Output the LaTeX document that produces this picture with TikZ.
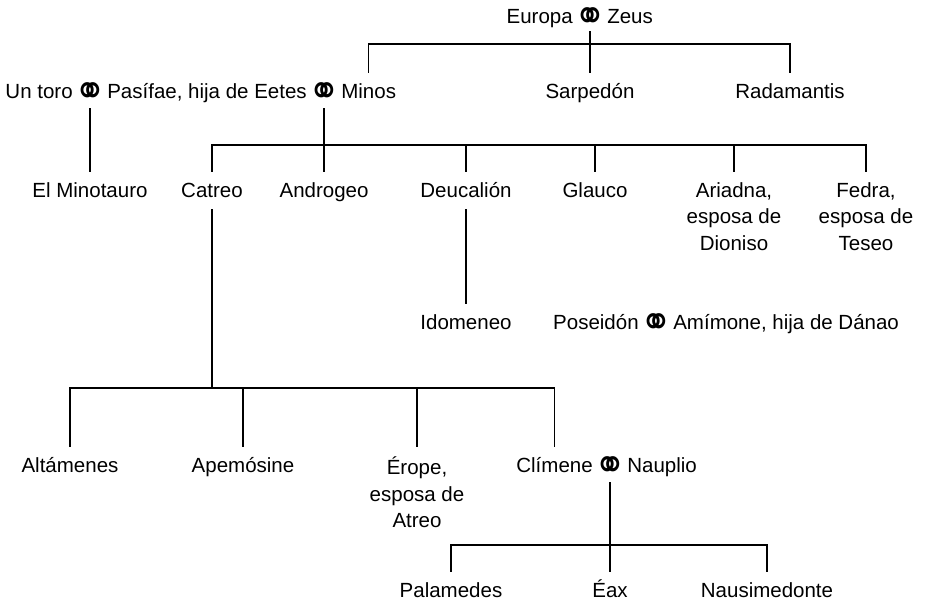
\documentclass[tikz,border=0pt]{standalone}
\usepackage{fontspec}
\setmainfont{Liberation Sans}
\newfontfamily\symfont{DejaVu Sans}
\newcommand\ringsym{\raisebox{-8.7pt}{\scalebox{1.15}[1.35]{\symfont\fontsize{33}{33}\selectfont ⚭}}}
\begin{document}
\begin{tikzpicture}[x=1pt,y=-1pt,
  txt/.style={font=\fontsize{20.5}{26.5}\selectfont, inner sep=0pt, align=center},
  lbl/.style={txt, anchor=base, text height=15pt, text depth=4pt},
  mlbl/.style={txt, anchor=north},
  rel/.style={line width=1.5pt}]
\useasboundingbox (0,0) rectangle (952,605);
% row 0
\node[lbl] (r0) at (590,23) {\ringsym};
\node[lbl, anchor=base east] (europa) at ([xshift=-1pt]r0.base west) {Europa};
\node[lbl, anchor=base west] (zeus) at ([xshift=1pt]r0.base east) {Zeus};
% row 1
\node[lbl] (r1) at (90,98) {\ringsym};
\node[lbl, anchor=base east] (toro) at ([xshift=-1pt]r1.base west) {Un toro};
\node[lbl, anchor=base west] (pasifae) at ([xshift=1pt]r1.base east) {Pasífae, hija de Eetes};
\node[lbl, anchor=base west] (r2) at ([xshift=1pt]pasifae.base east) {\ringsym};
\node[lbl, anchor=base west] (minos) at ([xshift=1pt]r2.base east) {Minos};
\node[lbl] (sarp) at (590,98) {Sarpedón};
\node[lbl] (radam) at (790,98) {Radamantis};
% row 2
\node[lbl] (minot) at (r1.base |- 0,197) {El Minotauro};
\node[lbl] (catreo) at (212,197) {Catreo};
\node[lbl] (androgeo) at (r2.base |- 0,197) {Androgeo};
\node[lbl] (deuc) at (466,197) {Deucalión};
\node[lbl] (glauco) at (595,197) {Glauco};
\node[mlbl] (ariadna) at (734,182) {Ariadna,\\esposa de\\Dioniso};
\node[mlbl] (fedra) at (866,182) {Fedra,\\esposa de\\Teseo};
% row 3
\node[lbl] (idom) at (466,329) {Idomeneo};
\node[lbl] (r3) at (656,329) {\ringsym};
\node[lbl, anchor=base east] (poseidon) at ([xshift=-1pt]r3.base west) {Poseidón};
\node[lbl, anchor=base west] (amimone) at ([xshift=1pt]r3.base east) {Amímone, hija de Dánao};
% row 4
\node[lbl] (altam) at (70,472) {Altámenes};
\node[lbl] (apem) at (243,472) {Apemósine};
\node[mlbl] (erope) at (417,457) {Érope,\\esposa de\\Atreo};
\node[lbl] (r4) at (610,472) {\ringsym};
\node[lbl, anchor=base east] (climene) at ([xshift=-1pt]r4.base west) {Clímene};
\node[lbl, anchor=base west] (nauplio) at ([xshift=1pt]r4.base east) {Nauplio};
% row 5
\node[lbl] (palam) at (451,597) {Palamedes};
\node[lbl] (eax) at (r4.base |- 0,597) {Éax};
\node[lbl] (nausi) at (767,597) {Nausimedonte};
% Zeus family
\draw[rel] ([yshift=-8pt]r0.base) -- ([yshift=10pt]sarp.north);
\draw[rel] ([yshift=10pt]minos.north) -- (minos.north |- 0,44) -- (radam.north |- 0,44) -- ([yshift=10pt]radam.north);
% Pasifae family
\draw[rel] ([yshift=-10pt]r1.base) -- ([yshift=10pt]minot.north);
\draw[rel] ([yshift=-10pt]r2.base) -- ([yshift=10pt]androgeo.north);
\draw[rel] ([yshift=10pt]catreo.north) -- (catreo.north |- 0,145) -- (fedra.north |- 0,145) -- ([yshift=10pt]fedra.north);
\draw[rel] (deuc.north |- 0,145) -- ([yshift=10pt]deuc.north);
\draw[rel] (glauco.north |- 0,145) -- ([yshift=10pt]glauco.north);
\draw[rel] (ariadna.north |- 0,145) -- ([yshift=10pt]ariadna.north);
% Deucalion
\draw[rel] ([yshift=-8pt]deuc.south) -- ([yshift=10pt]idom.north);
% Catreo family
\draw[rel] ([yshift=-8pt]catreo.south) -- (catreo.south |- 0,388);
\draw[rel] ([yshift=10pt]altam.north) -- (altam.north |- 0,388) -- (climene.north |- 0,388) -- ([yshift=10pt]climene.north);
\draw[rel] (apem.north |- 0,388) -- ([yshift=10pt]apem.north);
\draw[rel] (erope.north |- 0,388) -- ([yshift=10pt]erope.north);
% Climene family
\draw[rel] ([yshift=-10pt]r4.base) -- (r4.base |- 0,545);
\draw[rel] ([yshift=10pt]palam.north) -- (palam.north |- 0,545) -- (nausi.north |- 0,545) -- ([yshift=10pt]nausi.north);
\draw[rel] (eax.north |- 0,545) -- ([yshift=10pt]eax.north);
\end{tikzpicture}
\end{document}
